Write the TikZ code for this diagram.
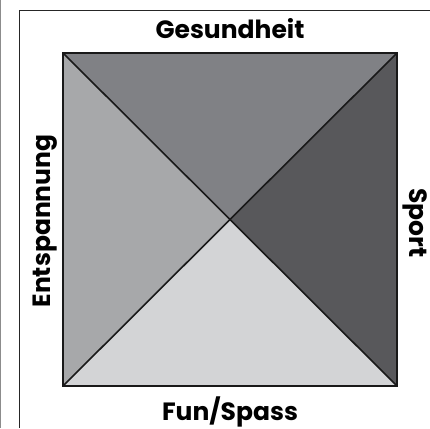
\documentclass[tikz,border=0pt]{standalone}
\usepackage{fontspec}
\setmainfont{Poppins}
\definecolor{topgray}{RGB}{128,129,133}
\definecolor{leftgray}{RGB}{167,168,170}
\definecolor{rightgray}{RGB}{88,88,91}
\definecolor{bottomgray}{RGB}{211,212,214}
\definecolor{edgegray}{RGB}{140,140,140}
\tikzset{
  label/.style={font=\bfseries\fontsize{25}{25}\selectfont, inner sep=0pt},
}
\begin{document}
\begin{tikzpicture}[x=1pt, y=-1pt]
    \useasboundingbox (0,0) rectangle (430,428);
    \coordinate (A) at (63,53);
    \coordinate (B) at (397,53);
    \coordinate (C) at (397,386);
    \coordinate (D) at (63,386);
    \coordinate (M) at (230,219.5);

    % outer frame
    \draw[edgegray, line width=1.2pt] (0.8,0) -- (0.8,428);
    \draw[black!85, line width=1pt] (19,428) -- (19,11) -- (430,11);

    % four triangles
    \fill[topgray] (A)--(B)--(M)--cycle;
    \fill[rightgray] (B)--(C)--(M)--cycle;
    \fill[bottomgray] (C)--(D)--(M)--cycle;
    \fill[leftgray] (D)--(A)--(M)--cycle;
    \draw[black!90, line width=1.6pt] (A)--(C);
    \draw[black!90, line width=1.6pt] (B)--(D);
    \draw[black!90, line width=1.6pt] (A)--(B)--(C)--(D)--cycle;

    \node[label, anchor=base] (gesundheit) at (230,38) {Gesundheit};
    \node[label, anchor=base] (fun) at (230,420.5) {Fun/Spass};
    \node[label, anchor=base, rotate=90] (entspannung) at (50,221) {Entspannung};
    \node[label, anchor=base, rotate=-90] (sport) at (409,223) {Sport};
\end{tikzpicture}
\end{document}
